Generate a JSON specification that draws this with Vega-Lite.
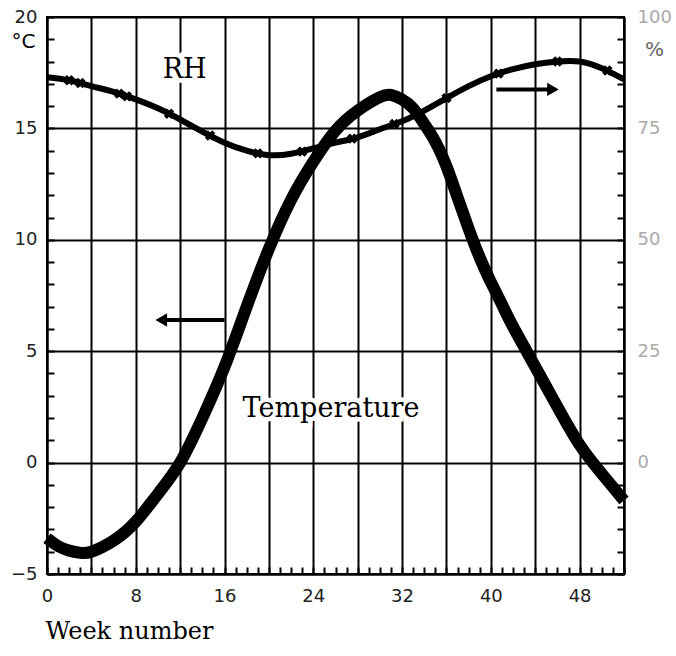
{
  "$schema": "https://vega.github.io/schema/vega-lite/v6.json",
  "width": 577,
  "height": 557,
  "autosize": {"type": "none"},
  "padding": {"left": 47, "top": 17, "right": 52, "bottom": 82},
  "background": "white",
  "config": {
    "view": {"stroke": "black", "strokeWidth": 2},
    "axis": {"domainColor": "black", "domainWidth": 2, "tickColor": "black", "tickWidth": 2, "labelOverlap": false, "labelBound": false}
  },
  "datasets": {
    "temp": [
      {"week": 0, "temp": -3.4}, {"week": 1, "temp": -3.75}, {"week": 2, "temp": -3.95},
      {"week": 3, "temp": -4.05}, {"week": 4, "temp": -4.0}, {"week": 6, "temp": -3.5},
      {"week": 8, "temp": -2.65}, {"week": 10, "temp": -1.4}, {"week": 12, "temp": 0.0},
      {"week": 14, "temp": 2.0}, {"week": 16, "temp": 4.3}, {"week": 18, "temp": 7.0},
      {"week": 20, "temp": 9.6}, {"week": 22, "temp": 11.8}, {"week": 24, "temp": 13.5},
      {"week": 26, "temp": 14.9}, {"week": 28, "temp": 15.8}, {"week": 30, "temp": 16.4},
      {"week": 31, "temp": 16.5}, {"week": 32, "temp": 16.3}, {"week": 33, "temp": 15.9},
      {"week": 34, "temp": 15.2}, {"week": 35, "temp": 14.4}, {"week": 36, "temp": 13.3},
      {"week": 37, "temp": 11.9}, {"week": 38, "temp": 10.5}, {"week": 39, "temp": 9.2},
      {"week": 40, "temp": 8.1}, {"week": 41, "temp": 7.1}, {"week": 42, "temp": 6.1},
      {"week": 44, "temp": 4.3}, {"week": 46, "temp": 2.5}, {"week": 48, "temp": 0.8},
      {"week": 50, "temp": -0.5}, {"week": 52, "temp": -1.7}
    ],
    "rh": [
      {"week": 0, "rh": 86.5}, {"week": 2, "rh": 85.8}, {"week": 4, "rh": 84.5},
      {"week": 6, "rh": 83.2}, {"week": 8, "rh": 81.5}, {"week": 10, "rh": 79.5},
      {"week": 12, "rh": 77.0}, {"week": 14, "rh": 74.3}, {"week": 16, "rh": 71.8},
      {"week": 18, "rh": 70.0}, {"week": 20, "rh": 69.0}, {"week": 22, "rh": 69.3},
      {"week": 24, "rh": 70.5}, {"week": 26, "rh": 71.8}, {"week": 28, "rh": 73.0},
      {"week": 30, "rh": 74.8}, {"week": 32, "rh": 76.6}, {"week": 34, "rh": 79.0},
      {"week": 36, "rh": 81.8}, {"week": 38, "rh": 84.5}, {"week": 40, "rh": 86.7},
      {"week": 42, "rh": 88.3}, {"week": 44, "rh": 89.4}, {"week": 46, "rh": 90.0},
      {"week": 48, "rh": 90.0}, {"week": 50, "rh": 88.5}, {"week": 52, "rh": 86.0}
    ],
    "rhmarks": [
      {"week": 2, "rh": 85.8}, {"week": 3, "rh": 85.2}, {"week": 6.5, "rh": 82.8},
      {"week": 7.2, "rh": 82.2}, {"week": 11, "rh": 78.3}, {"week": 14.7, "rh": 73.4},
      {"week": 19, "rh": 69.4}, {"week": 23, "rh": 69.8}, {"week": 27.5, "rh": 72.7},
      {"week": 31.3, "rh": 76.0}, {"week": 36, "rh": 81.8}, {"week": 40.7, "rh": 87.3},
      {"week": 46, "rh": 90.0}, {"week": 50.5, "rh": 88.0}
    ],
    "arrows": [
      {"dir": "left", "from": 16, "to": 10.6, "head": 10.3, "temp": 6.4},
      {"dir": "right", "from": 40.5, "to": 45.3, "head": 45.6, "temp": 16.75}
    ],
    "labels": [
      {"label": "RH", "week": 12.4, "temp": 17.6},
      {"label": "Temperature", "week": 25.6, "temp": 2.4}
    ]
  },
  "layer": [
    {
      "layer": [
        {
          "data": {"name": "labels"},
          "mark": {"type": "text", "font": "DejaVu Serif", "fontSize": 27, "stroke": "white", "strokeWidth": 9, "fill": "white", "align": "center", "baseline": "middle"},
          "encoding": {
            "x": {"field": "week", "type": "quantitative", "scale": {"domain": [0, 52], "nice": false, "zero": false},
              "axis": {
                "orient": "bottom",
                "values": [0,1,2,3,4,5,6,7,8,9,10,11,12,13,14,15,16,17,18,19,20,21,22,23,24,25,26,27,28,29,30,31,32,33,34,35,36,37,38,39,40,41,42,43,44,45,46,47,48,49,50,51,52],
                "tickCount": 200, "format": "d",
                "grid": true, "gridColor": "black", "gridWidth": 2,
                "gridOpacity": {"condition": {"test": "indexof([0,4,8,12,16,20,24,28,32,36,40,44,48,52], datum.value) >= 0", "value": 1}, "value": 0},
                "tickSize": -7,
                "labelExpr": "indexof([0,8,16,24,32,40,48], datum.value) >= 0 ? datum.label : ''",
                "labelFont": "DejaVu Sans", "labelFontSize": 18, "labelColor": "#222", "labelPadding": 20,
                "labelFlush": false, "labelOverlap": false,
                "title": "Week number", "titleFont": "DejaVu Serif", "titleFontSize": 24, "titleFontWeight": "normal",
                "titleColor": "black", "titleAnchor": "start", "titleAlign": "left", "titleBaseline": "alphabetic",
                "titleX": -2, "titleY": 64
              }
            },
            "y": {"field": "temp", "type": "quantitative", "scale": {"domain": [-5, 20], "nice": false, "zero": false},
              "axis": {
                "orient": "left",
                "values": [-5,-4,-3,-2,-1,0,1,2,3,4,5,6,7,8,9,10,11,12,13,14,15,16,17,18,19,20],
                "tickCount": 200, "format": "d",
                "grid": true, "gridColor": "black", "gridWidth": 2,
                "gridOpacity": {"condition": {"test": "indexof([-5,0,5,10,15,20], datum.value) >= 0", "value": 1}, "value": 0},
                "tickSize": -7,
                "labelExpr": "indexof([-5,0,5,10,15,20], datum.value) >= 0 ? datum.label : ''",
                "labelFont": "DejaVu Sans", "labelFontSize": 18, "labelColor": "#222", "labelPadding": 17,
                "labelFlush": false, "labelOverlap": false,
                "title": "°C", "titleAngle": 0, "titleFont": "DejaVu Sans", "titleFontSize": 20, "titleFontWeight": "normal",
                "titleColor": "black", "titleAlign": "center", "titleBaseline": "middle", "titleX": -24, "titleY": 24
              }
            },
            "text": {"field": "label", "type": "nominal"}
          }
        },
        {
          "data": {"name": "labels"},
          "mark": {"type": "text", "font": "DejaVu Serif", "fontSize": 27, "fill": "black", "align": "center", "baseline": "middle"},
          "encoding": {
            "x": {"field": "week", "type": "quantitative"},
            "y": {"field": "temp", "type": "quantitative"},
            "text": {"field": "label", "type": "nominal"}
          }
        },
        {
          "data": {"name": "temp"},
          "mark": {"type": "line", "color": "black", "strokeWidth": 12, "interpolate": "natural", "strokeCap": "butt"},
          "encoding": {
            "x": {"field": "week", "type": "quantitative"},
            "y": {"field": "temp", "type": "quantitative"}
          }
        },
        {
          "data": {"name": "arrows"},
          "mark": {"type": "rule", "color": "black", "strokeWidth": 4},
          "encoding": {
            "x": {"field": "from", "type": "quantitative"},
            "x2": {"field": "to"},
            "y": {"field": "temp", "type": "quantitative"}
          }
        },
        {
          "data": {"name": "arrows"},
          "transform": [{"filter": "datum.dir === 'left'"}],
          "mark": {"type": "point", "shape": "triangle-left", "filled": true, "color": "black", "size": 180, "opacity": 1},
          "encoding": {
            "x": {"field": "head", "type": "quantitative"},
            "y": {"field": "temp", "type": "quantitative"}
          }
        },
        {
          "data": {"name": "arrows"},
          "transform": [{"filter": "datum.dir === 'right'"}],
          "mark": {"type": "point", "shape": "triangle-right", "filled": true, "color": "black", "size": 180, "opacity": 1},
          "encoding": {
            "x": {"field": "head", "type": "quantitative"},
            "y": {"field": "temp", "type": "quantitative"}
          }
        }
      ]
    },
    {
      "layer": [
        {
          "data": {"name": "rh"},
          "mark": {"type": "line", "color": "black", "strokeWidth": 6, "interpolate": "natural"},
          "encoding": {
            "x": {"field": "week", "type": "quantitative"},
            "y": {"field": "rh", "type": "quantitative", "scale": {"domain": [-25, 100], "nice": false, "zero": false},
              "axis": {
                "orient": "right",
                "values": [-25,-20,-15,-10,-5,0,5,10,15,20,25,30,35,40,45,50,55,60,65,70,75,80,85,90,95,100],
                "tickCount": 200, "format": "d",
                "grid": false,
                "tickSize": -7,
                "labelExpr": "indexof([0,25,50,75,100], datum.value) >= 0 ? datum.label : ''",
                "labelFont": "DejaVu Sans", "labelFontSize": 18, "labelColor": "#aaaaaa", "labelPadding": 20,
                "labelFlush": false, "labelOverlap": false,
                "title": "%", "titleAngle": 0, "titleFont": "DejaVu Sans", "titleFontSize": 20, "titleFontWeight": "normal",
                "titleColor": "#666666", "titleAlign": "center", "titleBaseline": "middle", "titleX": 30, "titleY": 32
              }
            }
          }
        },
        {
          "data": {"name": "rhmarks"},
          "mark": {"type": "point", "shape": "cross", "angle": 45, "filled": true, "color": "black", "size": 110, "opacity": 1},
          "encoding": {
            "x": {"field": "week", "type": "quantitative"},
            "y": {"field": "rh", "type": "quantitative"}
          }
        }
      ]
    }
  ],
  "resolve": {"scale": {"y": "independent"}}
}
